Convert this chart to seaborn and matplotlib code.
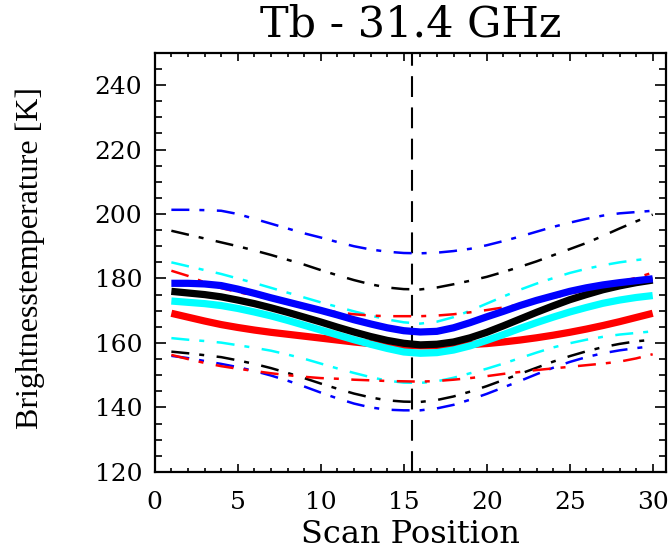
import numpy as np
import pandas as pd
import seaborn as sns
import matplotlib
matplotlib.use("Agg")
import matplotlib.pyplot as plt
from matplotlib.ticker import MultipleLocator

sns.set_theme(style="white")
plt.rcParams["font.family"] = ["DejaVu Serif", "Liberation Serif"]
plt.rcParams["text.color"] = "black"
plt.rcParams["axes.labelcolor"] = "black"

scan_pos = list(range(1, 31))

# Mean brightness temperatures per scan position
blue_mean = [178.5, 178.5, 178.3, 177.8, 176.7, 175.4, 174.0, 172.7, 171.4, 170.1,
             168.7, 167.2, 165.9, 164.7, 163.8, 163.4, 163.6, 164.7, 166.3, 168.1,
             169.8, 171.6, 173.2, 174.6, 176.0, 177.1, 178.0, 178.7, 179.3, 179.9]
black_mean = [176.0, 175.5, 175.0, 174.3, 173.3, 172.2, 170.9, 169.5, 168.0, 166.5,
              164.9, 163.4, 162.0, 160.8, 159.9, 159.4, 159.6, 160.3, 161.6, 163.3,
              165.3, 167.4, 169.5, 171.5, 173.4, 175.0, 176.5, 177.7, 178.7, 179.5]
cyan_mean = [173.0, 172.6, 172.2, 171.6, 170.7, 169.6, 168.4, 167.0, 165.5, 164.0,
             162.5, 161.0, 159.6, 158.3, 157.2, 156.8, 157.0, 157.8, 159.1, 160.8,
             162.6, 164.5, 166.3, 168.0, 169.6, 171.0, 172.3, 173.3, 174.1, 174.7]
red_mean = [169.2, 168.0, 166.8, 165.7, 164.8, 164.0, 163.3, 162.7, 162.1, 161.5,
            160.9, 160.3, 159.8, 159.4, 159.2, 159.1, 159.1, 159.2, 159.5, 159.8,
            160.3, 160.9, 161.6, 162.4, 163.3, 164.3, 165.4, 166.6, 167.9, 169.2]

# Upper envelopes
blue_upper = [201.3, 201.3, 201.2, 201.0, 200.0, 198.5, 197.0, 195.5, 194.0, 192.7,
              191.3, 190.0, 189.0, 188.3, 187.9, 187.8, 188.0, 188.5, 189.2, 190.3,
              191.6, 193.0, 194.5, 196.0, 197.3, 198.5, 199.5, 200.2, 200.6, 201.0]
black_upper = [194.8, 193.6, 192.4, 191.2, 190.0, 188.7, 187.3, 185.8, 184.3, 182.6,
               181.0, 179.5, 178.2, 177.2, 176.7, 176.6, 177.2, 178.2, 179.3, 180.5,
               182.0, 183.6, 185.3, 187.2, 189.1, 191.0, 193.2, 195.5, 197.7, 199.8]
cyan_upper = [185.0, 183.8, 182.6, 181.4, 180.0, 178.6, 177.1, 175.6, 174.1, 172.6,
              171.2, 169.8, 168.5, 167.3, 166.4, 166.0, 166.6, 168.0, 170.0, 172.2,
              174.4, 176.5, 178.4, 180.1, 181.7, 183.0, 184.1, 185.0, 185.7, 186.3]
red_upper = [182.4, 180.8, 178.8, 177.0, 175.8, 174.7, 173.6, 172.6, 171.6, 170.5,
             169.5, 168.9, 168.5, 168.3, 168.3, 168.3, 168.5, 168.9, 169.5, 170.2,
             171.0, 171.9, 172.9, 174.0, 175.2, 176.5, 177.7, 178.9, 180.2, 181.8]

# Lower envelopes
blue_lower = [156.0, 155.3, 154.4, 153.5, 152.5, 151.3, 149.9, 148.3, 146.5, 144.6,
              142.8, 141.2, 140.0, 139.3, 139.1, 139.1, 139.7, 140.8, 142.4, 144.2,
              146.2, 148.2, 150.3, 152.3, 154.1, 155.6, 156.8, 157.7, 158.4, 159.0]
black_lower = [157.3, 156.8, 156.2, 155.6, 154.6, 153.5, 152.2, 150.7, 149.1, 147.4,
               145.8, 144.3, 143.1, 142.2, 141.8, 141.7, 142.3, 143.4, 144.9, 146.6,
               148.5, 150.4, 152.3, 154.2, 155.9, 157.4, 158.7, 159.7, 160.5, 161.0]
cyan_lower = [161.5, 161.0, 160.6, 160.1, 159.3, 158.5, 157.6, 156.4, 155.1, 153.6,
              152.1, 150.7, 149.4, 148.3, 147.7, 147.6, 148.1, 149.2, 150.6, 152.0,
              153.6, 155.3, 157.0, 158.6, 159.9, 161.0, 161.9, 162.6, 163.1, 163.6]
red_lower = [156.3, 155.0, 153.8, 152.8, 152.0, 151.3, 150.6, 150.0, 149.5, 149.1,
             148.9, 148.6, 148.4, 148.2, 148.1, 148.0, 148.2, 148.6, 149.1, 149.7,
             150.4, 151.0, 151.6, 152.1, 152.6, 153.1, 153.6, 154.2, 155.2, 156.5]

nadir_position = 15.5

colors = {"blue": "#0000ff", "black": "#000000", "cyan": "#00ffff", "red": "#ff0000"}
envelopes = [
    ("blue", blue_upper, blue_lower),
    ("black", black_upper, black_lower),
    ("cyan", cyan_upper, cyan_lower),
    ("red", red_upper, red_lower),
]
means = [
    ("red", red_mean),
    ("cyan", cyan_mean),
    ("black", black_mean),
    ("blue", blue_mean),
]

fig = plt.figure(figsize=(6.7, 5.5), dpi=100)
ax = fig.add_axes([0.231, 0.142, 0.763, 0.762])

dashdot = (0, (7.2, 4, 2, 5))
for name, up, lo in envelopes:
    for vals in (up, lo):
        sns.lineplot(x=scan_pos, y=vals, ax=ax, color=colors[name],
                     linewidth=1.8, linestyle=dashdot, legend=False)

for name, vals in means:
    sns.lineplot(x=scan_pos, y=vals, ax=ax, color=colors[name],
                 linewidth=5.2, solid_capstyle="butt", legend=False)

ax.axvline(nadir_position, color="black", linewidth=1.5,
           linestyle=(0, (10, 5)), zorder=1)

ax.set_xlim(0, 30.8)
ax.set_ylim(120, 250)
ax.xaxis.set_major_locator(MultipleLocator(5))
ax.xaxis.set_minor_locator(MultipleLocator(1))
ax.yaxis.set_major_locator(MultipleLocator(20))
ax.yaxis.set_minor_locator(MultipleLocator(5))
ax.set_yticks([120, 140, 160, 180, 200, 220, 240])

ax.tick_params(axis="both", which="both", direction="in", top=True, right=True,
               bottom=True, left=True, width=1.2, color="black",
               labelsize=18, labelcolor="black")
ax.tick_params(axis="x", which="major", length=6, pad=14)
ax.tick_params(axis="x", which="minor", length=3)
ax.tick_params(axis="y", which="major", length=8, pad=9)
ax.tick_params(axis="y", which="minor", length=5)

for sp in ax.spines.values():
    sp.set_visible(True)
    sp.set_color("black")
    sp.set_linewidth(1.6)

ax.set_title("Tb - 31.4 GHz", fontsize=31, pad=12, color="black")
ax.set_xlabel("Scan Position", fontsize=23, labelpad=3, color="black")
ax.set_ylabel("Brightnesstemperature [K]", fontsize=23,
              family="Liberation Serif", color="black")
ax.yaxis.set_label_coords(-0.215, 0.51)
ax.grid(False)

fig.savefig("out.png", dpi=100, facecolor="white")
